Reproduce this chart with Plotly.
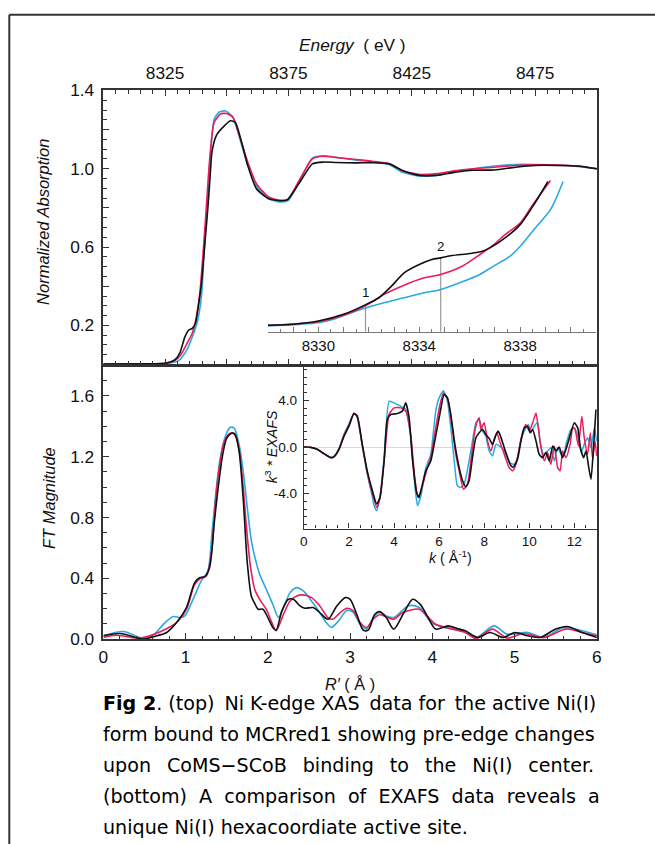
import plotly.graph_objects as go

# ---------------- data ----------------
xanes_black_e = [8300, 8320, 8325, 8329, 8331, 8333, 8334.5, 8336, 8337.3, 8338.5, 8339.8, 8341, 8342.4, 8343.3, 8344,
                 8345.8, 8348.3, 8351.5, 8353.5, 8356, 8358.5, 8362, 8367, 8372, 8374.5, 8377, 8380.5, 8384.7, 8389,
                 8394, 8402.5, 8409, 8416, 8421, 8428, 8435, 8441.5, 8450, 8458.5, 8467, 8475, 8484, 8492, 8500]
xanes_black_a = [0.003, 0.004, 0.006, 0.025, 0.06, 0.14, 0.175, 0.185, 0.21, 0.3, 0.42, 0.6, 0.81, 0.97, 1.085,
                 1.17, 1.21, 1.245, 1.236, 1.136, 1.017, 0.898, 0.847, 0.837, 0.842, 0.881, 0.949, 1.025, 1.034,
                 1.032, 1.03, 1.031, 1.025, 0.992, 0.966, 0.966, 0.98, 0.992, 0.994, 1.008, 1.017, 1.017, 1.014, 1.0]
xanes_red_e = [8300, 8320, 8325, 8329, 8331.4, 8334, 8336, 8337.3, 8339, 8340.3, 8341.5, 8343.2, 8344.9, 8347.5,
               8350, 8352.5, 8355.1, 8358.5, 8362, 8367, 8372, 8375, 8377.1, 8380.5, 8384.7, 8389, 8394, 8402.5,
               8409, 8416, 8421, 8428, 8435, 8441.5, 8450, 8458.5, 8467, 8475, 8484, 8492, 8500]
xanes_red_a = [0.003, 0.004, 0.006, 0.02, 0.05, 0.11, 0.16, 0.22, 0.356, 0.55, 0.763, 1.068, 1.237, 1.28,
               1.282, 1.263, 1.17, 1.034, 0.924, 0.856, 0.838, 0.845, 0.89, 0.966, 1.051, 1.064, 1.058, 1.047,
               1.038, 1.025, 0.99, 0.971, 0.975, 0.988, 1.0, 1.008, 1.017, 1.02, 1.019, 1.014, 1.0]
xanes_blue_e = [8300, 8320, 8326, 8330.5, 8333.9, 8336.4, 8338.1, 8339.8, 8340.7, 8341.5, 8343.2, 8344.9, 8347,
                8349.6, 8352.5, 8355.1, 8358.5, 8362, 8367, 8372, 8375, 8377.1, 8380.5, 8384.7, 8389, 8394, 8402.5,
                8409, 8416, 8421, 8428, 8435, 8441.5, 8450, 8458.5, 8467, 8475, 8484, 8492, 8500]
xanes_blue_a = [0.003, 0.004, 0.006, 0.02, 0.076, 0.153, 0.22, 0.356, 0.55, 0.70, 1.034, 1.254, 1.29,
                1.295, 1.263, 1.161, 1.017, 0.912, 0.847, 0.83, 0.838, 0.881, 0.963, 1.054, 1.066, 1.059, 1.044,
                1.036, 1.02, 0.983, 0.963, 0.966, 0.983, 1.0, 1.014, 1.022, 1.022, 1.019, 1.012, 1.0]

pre_black_e = [8328.0, 8329.0, 8330.0, 8331.0, 8331.9, 8332.4, 8332.9, 8333.4, 8334.0, 8334.5, 8334.85, 8335.3,
               8336.0, 8336.5, 8336.8, 8337.4, 8338.0, 8338.5, 8339.1]
pre_black_a = [0.0127, 0.0147, 0.0213, 0.0347, 0.0547, 0.068, 0.0913, 0.118, 0.1347, 0.1447, 0.148, 0.1527,
               0.1567, 0.1613, 0.168, 0.188, 0.2147, 0.2513, 0.3013]
pre_red_e = [8328.0, 8330.0, 8331.0, 8331.9, 8332.6, 8333.4, 8334.2, 8334.85, 8335.7, 8336.4, 8336.9, 8337.4,
             8338.0, 8338.5, 8339.2]
pre_red_a = [0.0127, 0.020, 0.0327, 0.0527, 0.0747, 0.0933, 0.108, 0.1147, 0.1313, 0.1547, 0.1727, 0.1947,
             0.218, 0.2547, 0.3033]
pre_blue_e = [8328.0, 8330.0, 8330.6, 8331.3, 8331.9, 8332.6, 8333.4, 8334.2, 8334.85, 8335.6, 8336.4, 8336.9,
              8337.6, 8338.0, 8338.6, 8339.2, 8339.7]
pre_blue_a = [0.0113, 0.018, 0.0247, 0.038, 0.048, 0.058, 0.068, 0.078, 0.0847, 0.098, 0.1147, 0.13,
              0.1513, 0.1713, 0.208, 0.2447, 0.3013]
pre_marker_e = [8331.87, 8334.85]
pre_marker_a = [0.0547, 0.148]
pre_marker_labels = ["1", "2"]

ft_black_r = [0, 0.2, 0.4, 0.48, 0.6, 0.77, 0.89, 1.01, 1.11, 1.17, 1.23, 1.29, 1.35, 1.40, 1.45, 1.5, 1.56,
              1.6, 1.65, 1.7, 1.75, 1.8, 1.84, 1.88, 1.94, 2.0, 2.06, 2.1, 2.17, 2.25, 2.31, 2.39, 2.45, 2.55,
              2.63, 2.73, 2.84, 2.94, 3.0, 3.08, 3.16, 3.22, 3.3, 3.36, 3.44, 3.53, 3.65, 3.76, 3.85, 3.94, 4.04,
              4.19, 4.3, 4.4, 4.55, 4.7, 4.86, 5.0, 5.16, 5.31, 5.5, 5.64, 5.82, 6.0]
ft_black_m = [0.022, 0.037, 0.011, 0.0, 0.015, 0.044, 0.109, 0.208, 0.372, 0.404, 0.409, 0.47, 0.776, 1.016,
              1.213, 1.322, 1.355, 1.349, 1.235, 0.92, 0.5, 0.28, 0.235, 0.197, 0.197, 0.142, 0.077, 0.059,
              0.186, 0.262, 0.262, 0.219, 0.203, 0.208, 0.175, 0.131, 0.219, 0.273, 0.262, 0.164, 0.059, 0.059,
              0.164, 0.181, 0.142, 0.066, 0.17, 0.262, 0.23, 0.15, 0.066, 0.087, 0.07, 0.055, 0.011, 0.044,
              0.011, 0.044, 0.022, 0.011, 0.066, 0.083, 0.044, 0.011]
ft_red_r = [0, 0.16, 0.4, 0.52, 0.73, 0.89, 1.01, 1.11, 1.19, 1.25, 1.31, 1.34, 1.37, 1.42, 1.47, 1.54, 1.59,
            1.64, 1.69, 1.74, 1.79, 1.84, 1.9, 1.98, 2.04, 2.1, 2.19, 2.27, 2.35, 2.43, 2.53, 2.63, 2.73, 2.79,
            2.88, 2.96, 3.04, 3.12, 3.2, 3.28, 3.36, 3.44, 3.53, 3.64, 3.84, 3.94, 4.04, 4.25, 4.4, 4.53, 4.73,
            4.91, 5.11, 5.36, 5.62, 5.82, 6.0]
ft_red_m = [0.011, 0.026, 0.007, 0.015, 0.059, 0.109, 0.197, 0.361, 0.404, 0.415, 0.55, 0.73, 0.951, 1.169,
            1.30, 1.355, 1.349, 1.279, 1.06, 0.732, 0.47, 0.328, 0.262, 0.197, 0.12, 0.055, 0.164, 0.251, 0.284,
            0.291, 0.273, 0.219, 0.142, 0.131, 0.175, 0.203, 0.186, 0.109, 0.077, 0.131, 0.16, 0.146, 0.131,
            0.175, 0.197, 0.15, 0.098, 0.066, 0.044, 0.004, 0.066, 0.007, 0.037, 0.011, 0.066, 0.044, 0.022]
ft_blue_r = [0, 0.24, 0.44, 0.5, 0.62, 0.75, 0.85, 0.93, 0.99, 1.09, 1.19, 1.27, 1.32, 1.37, 1.42, 1.49, 1.54,
             1.59, 1.65, 1.70, 1.75, 1.8, 1.86, 1.9, 1.98, 2.06, 2.13, 2.19, 2.27, 2.35, 2.43, 2.53, 2.63, 2.71,
             2.77, 2.86, 2.96, 3.04, 3.12, 3.2, 3.28, 3.36, 3.44, 3.53, 3.71, 3.84, 3.99, 4.14, 4.35, 4.53, 4.75,
             4.91, 5.16, 5.36, 5.59, 5.82, 6.0]
ft_blue_m = [0.022, 0.05, 0.011, 0.0, 0.033, 0.109, 0.149, 0.142, 0.153, 0.262, 0.383, 0.448, 0.70, 0.973,
             1.19, 1.344, 1.392, 1.388, 1.279, 1.104, 0.863, 0.645, 0.5, 0.426, 0.328, 0.229, 0.142, 0.208,
             0.306, 0.339, 0.317, 0.251, 0.175, 0.109, 0.077, 0.12, 0.19, 0.175, 0.098, 0.066, 0.142, 0.175,
             0.153, 0.142, 0.219, 0.208, 0.109, 0.077, 0.059, 0.011, 0.087, 0.033, 0.044, 0.011, 0.077, 0.055,
             0.028]

exafs_black_k = [0, 0.3, 0.59, 0.89, 1.19, 1.33, 1.56, 1.78, 2.0, 2.22, 2.37, 2.59, 2.81, 3.04, 3.23, 3.38,
                 3.56, 3.7, 3.85, 4.15, 4.37, 4.52, 4.67, 4.81, 5.0, 5.11, 5.26, 5.41, 5.63, 5.78, 6.0, 6.22,
                 6.37, 6.52, 6.7, 6.89, 7.04, 7.19, 7.33, 7.48, 7.63, 7.78, 7.93, 8.07, 8.22, 8.37, 8.52, 8.62,
                 8.74, 8.89, 9.04, 9.19, 9.3, 9.48, 9.63, 9.78, 9.93, 10.04, 10.15, 10.3, 10.44, 10.59, 10.74,
                 10.89, 11.04, 11.19, 11.33, 11.48, 11.63, 11.78, 12.0, 12.15, 12.27, 12.41, 12.52, 12.64,
                 12.74, 12.84, 12.96]
exafs_black_v = [0, -0.03, -0.2, -0.57, -0.91, -0.85, -0.2, 0.94, 1.79, 2.88, 2.65, 0.23, -2.05, -3.76, -4.9,
                 -4.33, -1.2, 2.36, 2.79, 2.88, 3.08, 3.79, 2.5, -0.91, -3.9, -4.33, -3.19, -2.05, -1.2, 0.23,
                 2.5, 4.5, 4.22, 2.79, 0.23, -1.77, -2.9, -3.42, -2.9, -0.91, 0.8, 1.23, 1.5, 1.08, 0.74, 0.23,
                 1.03, 1.37, 0.85, -0.06, -0.91, -1.62, -1.71, -1.05, 0.51, 1.65, 1.79, 1.23, 1.51, 0.51,
                 -0.63, -0.91, -0.48, -1.2, 0.09, -0.34, 0.0, -0.91, -0.2, 0.8, 2.08, 1.65, -0.06, -0.91,
                 -0.34, -1.77, -2.76, -0.34, 3.22]
exafs_red_k = [0, 0.3, 0.59, 0.89, 1.19, 1.33, 1.56, 1.78, 2.0, 2.22, 2.37, 2.59, 2.81, 3.04, 3.23, 3.38, 3.56,
               3.78, 4.0, 4.3, 4.52, 4.74, 4.92, 5.07, 5.26, 5.48, 5.63, 5.85, 6.04, 6.19, 6.37, 6.52, 6.74,
               6.89, 7.08, 7.26, 7.41, 7.56, 7.67, 7.78, 7.85, 8.0, 8.15, 8.3, 8.44, 8.56, 8.71, 8.89, 9.11,
               9.26, 9.41, 9.56, 9.7, 9.85, 10.0, 10.15, 10.3, 10.4, 10.52, 10.67, 10.81, 10.96, 11.11, 11.26,
               11.37, 11.48, 11.63, 11.81, 11.93, 12.03, 12.18, 12.33, 12.44, 12.59, 12.71, 12.81, 12.92, 12.99]
exafs_red_v = [0, -0.03, -0.2, -0.57, -0.91, -0.85, -0.15, 1.0, 1.9, 2.9, 2.6, 0.2, -2.19, -4.0, -5.19, -4.3,
               -1.2, 2.79, 3.36, 3.36, 3.08, 1.08, -2.62, -4.33, -3.33, -1.77, -0.91, 1.65, 3.65, 4.64, 4.22,
               2.51, -0.63, -2.05, -3.62, -3.19, -1.2, 1.08, 2.08, 2.51, 1.51, 2.08, 0.51, -0.34, 0.66, 1.23,
               0.37, -0.63, -1.77, -2.05, -1.48, -0.06, 1.23, 1.94, 1.37, 2.08, 2.93, 1.65, -0.06, -1.2, -0.48,
               -1.48, 0.09, -1.77, -2.05, -0.34, -0.91, 0.23, 1.65, 1.51, 0.09, 2.65, 0.8, -0.63, 1.23, -1.05,
               0.51, -0.77]
exafs_blue_k = [0, 0.3, 0.59, 0.89, 1.19, 1.33, 1.56, 1.78, 2.0, 2.22, 2.37, 2.59, 2.81, 3.04, 3.11, 3.23, 3.38,
                3.56, 3.78, 4.0, 4.3, 4.52, 4.74, 4.92, 5.04, 5.21, 5.41, 5.63, 5.85, 6.0, 6.19, 6.37, 6.52, 6.67,
                6.81, 6.96, 7.11, 7.33, 7.48, 7.63, 7.78, 7.93, 8.07, 8.22, 8.37, 8.52, 8.67, 8.89, 9.11, 9.33,
                9.48, 9.63, 9.78, 9.96, 10.07, 10.22, 10.37, 10.48, 10.63, 10.81, 10.96, 11.11, 11.26, 11.48,
                11.67, 11.85, 12.0, 12.15, 12.3, 12.44, 12.59, 12.74, 12.89, 12.99]
exafs_blue_v = [0, -0.03, -0.2, -0.57, -0.9, -0.8, -0.1, 1.1, 2.0, 2.9, 2.5, 0.1, -2.3, -4.3, -5.0, -5.47, -4.2,
                -0.91, 3.93, 3.79, 3.5, 3.22, 0.8, -3.19, -5.04, -4.05, -1.77, -0.63, 3.08, 4.22, 4.84, 3.93,
                1.65, -1.2, -3.33, -3.48, -3.19, -1.2, 0.51, 2.08, 2.36, 1.37, 0.94, -0.34, -0.77, 0.23, 0.09,
                -0.34, -1.34, -1.48, -0.91, 0.66, 1.37, 1.94, 1.23, 1.79, 2.08, 0.51, -0.63, -0.34, -0.06, -1.2,
                -0.06, -0.91, 0.51, 1.51, 1.65, 0.94, -0.48, 0.23, 0.8, -0.06, 1.65, 0.51]

energy_tickvals = [8325, 8350, 8375, 8400, 8425, 8450, 8475]
energy_ticktext = ["8325", " ", "8375", " ", "8425", " ", "8475"]
abs_tickvals = [0.0, 0.2, 0.4, 0.6, 0.8, 1.0, 1.2, 1.4]
abs_ticktext = [" ", "0.2", " ", "0.6", " ", "1.0", " ", "1.4"]
r_tickvals = [0, 1, 2, 3, 4, 5, 6]
ft_tickvals = [0.0, 0.4, 0.8, 1.2, 1.6]
ft_ticktext = ["0.0", "0.4", "0.8", "1.2", "1.6"]
pre_tickvals = list(range(8328, 8342))
pre_ticktext = ["8330" if v == 8330 else "8334" if v == 8334 else "8338" if v == 8338 else " " for v in pre_tickvals]
k_tickvals = [0, 2, 4, 6, 8, 10, 12]
exafs_tickvals = [-4, 0, 4]
exafs_ticktext = ["-4.0", "0.0", "4.0"]

G3 = "  \u2009"   # widened word gap for the justified caption line
caption_lines = [
    "<b>Fig 2</b>. (top)\u2009 Ni K-edge XAS\u2009 data for\u2009 the active Ni(I)",
    "form bound to MCRred1 showing pre-edge changes",
    "upon" + G3 + "CoMS\u2212SCoB" + G3 + "binding" + G3 + "to" + G3 + "the" + G3 + "Ni(I)" + G3 + "center.",
    "(bottom)  A  comparison  of  EXAFS  data  reveals  a",
    "unique Ni(I) hexacoordiate active site.",
]

# ---------------- layout helpers ----------------
# The page is photographed slightly reduced; positions below are given in
# picture pixels and converted to page (paper) fractions.
W, H = 665, 862
SX, OX, SY, OY = 0.985, 4.1, 0.98, 7.3
def fx(px):
    return ((px - OX) / SX) / W
def fy(py):
    return 1 - ((py - OY) / SY) / H

BLACK = "#111111"
RED = "#ec1c5b"
BLUE = "#29aae1"
FONT = "Liberation Sans, Arial, sans-serif"
AX = "#333333"

fig = go.Figure()

def add(x, y, color, xa, ya, width=1.6, shape="spline", smooth=0.8):
    fig.add_trace(go.Scatter(x=x, y=y, mode="lines", xaxis=xa, yaxis=ya, showlegend=False,
                             line=dict(color=color, width=width, shape=shape, smoothing=smooth),
                             hoverinfo="skip"))

add(xanes_blue_e, xanes_blue_a, BLUE, "x", "y", smooth=0.6)
add(xanes_red_e, xanes_red_a, RED, "x", "y", smooth=0.6)
add(xanes_black_e, xanes_black_a, BLACK, "x", "y", smooth=0.6)
for e, a in zip(pre_marker_e, pre_marker_a):
    fig.add_trace(go.Scatter(x=[e, e], y=[0, a], mode="lines", xaxis="x3", yaxis="y3", showlegend=False,
                             line=dict(color="#999999", width=1.2), hoverinfo="skip"))
add(pre_blue_e, pre_blue_a, BLUE, "x3", "y3")
add(pre_red_e, pre_red_a, RED, "x3", "y3")
add(pre_black_e, pre_black_a, BLACK, "x3", "y3")
add(ft_blue_r, ft_blue_m, BLUE, "x2", "y2")
add(ft_red_r, ft_red_m, RED, "x2", "y2")
add(ft_black_r, ft_black_m, BLACK, "x2", "y2")
add(exafs_blue_k, exafs_blue_v, BLUE, "x4", "y4", width=1.5, smooth=0.5)
add(exafs_red_k, exafs_red_v, RED, "x4", "y4", width=1.5, smooth=0.5)
add(exafs_black_k, exafs_black_v, BLACK, "x4", "y4", width=1.6, smooth=0.5)

tickfont = dict(family=FONT, size=17.3, color="#111111")
smallfont = dict(family=FONT, size=13.6, color="#111111")

common = dict(showgrid=False, zeroline=False, showline=True, linecolor=AX, linewidth=1.5,
              ticks="inside", tickcolor=AX, tickwidth=1.2)

fig.update_layout(
    width=W, height=H, margin=dict(l=0, r=0, t=0, b=0),
    paper_bgcolor="white", plot_bgcolor="rgba(0,0,0,0)",
    xaxis=dict(**common, domain=[fx(102.5), fx(596)], anchor="y", side="top", range=[8300, 8500],
               tickmode="array", tickvals=energy_tickvals, ticktext=energy_ticktext, ticklen=6,
               mirror="ticks", tickfont=tickfont, ticklabelstandoff=3,
               minor=dict(dtick=5, tick0=8300, ticklen=3.5, ticks="inside", tickcolor=AX)),
    yaxis=dict(**common, domain=[fy(363), fy(88)], anchor="x", range=[0, 1.4],
               tickmode="array", tickvals=abs_tickvals, ticktext=abs_ticktext, ticklen=6,
               mirror=True, tickfont=tickfont, ticklabelstandoff=4,
               minor=dict(dtick=0.05, tick0=0, ticklen=3.5, ticks="inside", tickcolor=AX)),
    xaxis2=dict(**common, domain=[fx(102.5), fx(596)], anchor="y2", range=[0, 6],
                tickmode="array", tickvals=r_tickvals, ticklen=6, mirror=True, tickfont=tickfont,
                ticklabelstandoff=1,
                minor=dict(dtick=0.2, tick0=0, ticklen=3.5, ticks="inside", tickcolor=AX)),
    yaxis2=dict(**common, domain=[fy(638.5), fy(364)], anchor="x2", range=[0, 1.8],
                tickmode="array", tickvals=ft_tickvals, ticktext=ft_ticktext, ticklen=6,
                mirror=True, tickfont=tickfont, ticklabelstandoff=4,
                minor=dict(dtick=0.1, tick0=0, ticklen=3.5, ticks="inside", tickcolor=AX)),
    xaxis3=dict(showgrid=False, zeroline=False, showline=True, linecolor="#777777", linewidth=1.2,
                ticks="inside", tickcolor="#777777", tickwidth=1, ticklen=5,
                domain=[fx(267), fx(595)], anchor="y3", range=[8328, 8341],
                tickmode="array", tickvals=pre_tickvals, ticktext=pre_ticktext,
                tickfont=dict(family=FONT, size=15, color="#111111"),
                minor=dict(dtick=0.5, tick0=8328, ticklen=3, ticks="inside", tickcolor="#777777")),
    yaxis3=dict(domain=[fy(330), fy(170)], anchor="x3", range=[0, 0.32], visible=False),
    xaxis4=dict(**{**common, "linewidth": 1.2}, domain=[fx(303), fx(596)], anchor="y4", range=[0, 13],
                tickmode="array", tickvals=k_tickvals, ticklen=5, tickfont=smallfont,
                minor=dict(dtick=0.5, tick0=0, ticklen=3, ticks="inside", tickcolor=AX)),
    yaxis4=dict(showgrid=False, showline=True, linecolor=AX, linewidth=1.2, ticks="inside", tickcolor=AX,
                tickwidth=1, ticklen=5, ticklabelstandoff=3,
                zeroline=True, zerolinecolor="#d9d9d9", zerolinewidth=1.2,
                domain=[fy(527.5), fy(364)], anchor="x4", range=[-7, 7],
                tickmode="array", tickvals=exafs_tickvals, ticktext=exafs_ticktext, tickfont=smallfont,
                minor=dict(dtick=2 / 3, tick0=0, ticklen=3, ticks="inside", tickcolor=AX)),
)

ann = []
def txt(x, y, text, size=16, family=FONT, angle=0, xanchor="center", yanchor="middle", color="#111111"):
    ann.append(dict(x=x, y=y, xref="paper", yref="paper", text=text, showarrow=False, textangle=angle,
                    xanchor=xanchor, yanchor=yanchor, font=dict(family=family, size=size, color=color)))

txt(fx(352), fy(42), "<i>Energy</i>  ( eV )", size=17.3)
txt(fx(42), fy(220), "<i>Normalized Absorption</i>", size=16.5, angle=-90)
txt(fx(48), fy(497), "<i>FT Magnitude</i>", size=16.5, angle=-90)
txt(fx(349), fy(684), "<i>R\u2032</i> ( \u00c5 )", size=16.3)
txt(fx(270), fy(445), "<i>k</i><sup>3</sup><i> * EXAFS</i>", size=14.2, angle=-90)
txt(fx(450), fy(556), "<i>k</i> ( \u00c5<sup>-1</sup>)", size=14.2)

for e, a, lab in zip(pre_marker_e, pre_marker_a, pre_marker_labels):
    ann.append(dict(x=e, y=a, xref="x3", yref="y3", text=lab, showarrow=False, yanchor="bottom",
                    yshift=2, font=dict(family=FONT, size=13.3, color="#111111")))

cap_y = [703, 734, 765, 796, 827]
for line, yy in zip(caption_lines, cap_y):
    txt(fx(100), fy(yy), line, size=19.1, family="DejaVu Sans, Verdana, sans-serif", xanchor="left",
        color="#000000")

fig.update_layout(annotations=ann)

# outer frame: only its left and top edges fall inside the picture
fig.add_shape(type="line", xref="paper", yref="paper", x0=fx(8.4), x1=1, y0=fy(12), y1=fy(12),
              line=dict(color="#333333", width=2), layer="above")
fig.add_shape(type="line", xref="paper", yref="paper", x0=fx(8.4), x1=fx(8.4), y0=0, y1=fy(12),
              line=dict(color="#333333", width=2), layer="above")

fig.write_html("out.html", config={"displayModeBar": False},
               post_script="document.body.style.margin='0';document.documentElement.style.overflow='hidden';")
